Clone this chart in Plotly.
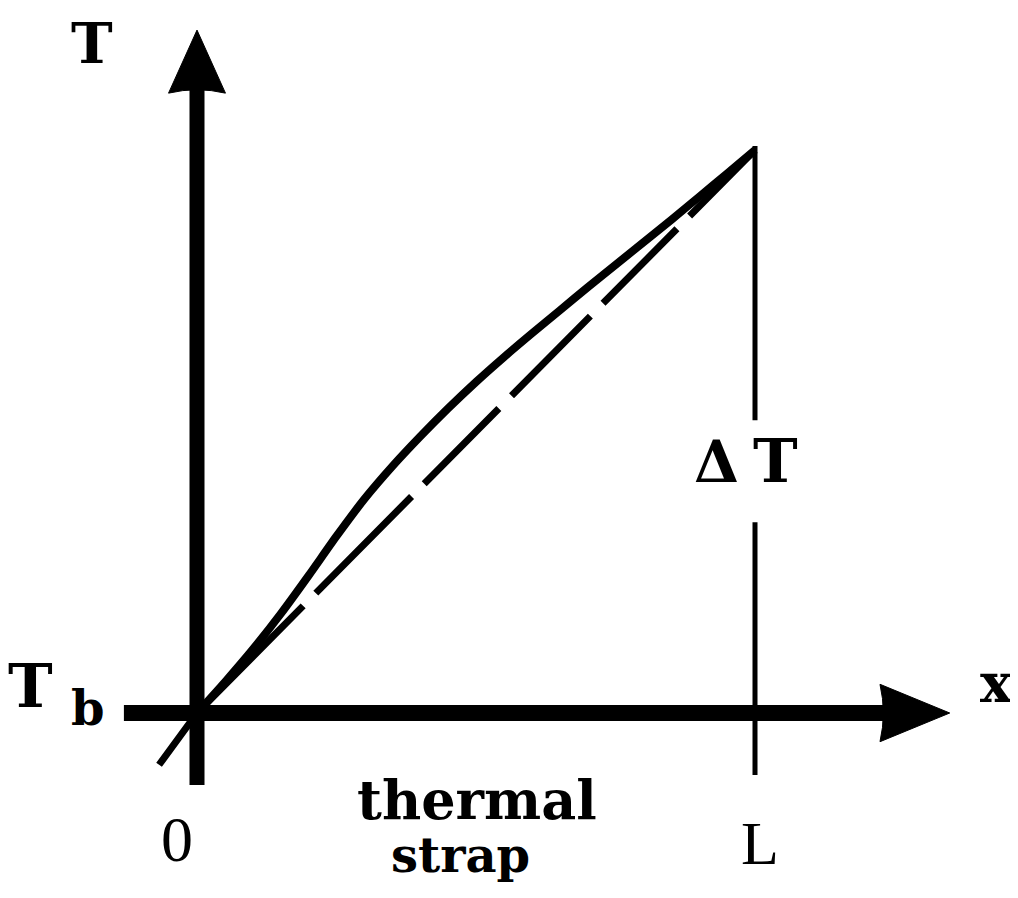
import plotly.graph_objects as go

# ---- data (normalised: x in units of L, T in units of dT above Tb) ----
x_curve = [0, 0.05, 0.1, 0.15, 0.2, 0.25, 0.3, 0.35, 0.4, 0.45, 0.5,
           0.55, 0.6, 0.65, 0.7, 0.75, 0.8, 0.85, 0.9, 0.95, 1.0]
T_curve = [0, 0.055, 0.113, 0.176, 0.244, 0.314, 0.380, 0.438, 0.491, 0.541, 0.588,
           0.632, 0.674, 0.715, 0.756, 0.796, 0.836, 0.876, 0.917, 0.958, 1.0]

x_linear = [-0.068, 0, 1.0]
T_linear = [-0.092, 0, 1.0]

x_L = 1.0
dT_upper = [1.007, 0.52]
dT_lower = [0.339, -0.110]

# axis extents (data units)
x_axis_start, x_axis_end, x_arrow_tip = -0.131, 1.224, 1.349
y_axis_start, y_axis_end, y_arrow_tip = -0.128, 1.101, 1.213
arrow_half_x = 0.051  # half width of vertical arrow (x units)
arrow_half_y = 0.051  # half height of horizontal arrow (y units)

OFF = 8  # page offset of the plot div
W, H = 1018 - OFF, 898 - OFF
X0_PX, Y0_PX = 197 - OFF, 713 - OFF   # origin in figure pixels
SX, SY = 558.0, 563.0                  # pixels per data unit
X_RANGE = [-X0_PX / SX, (W - X0_PX) / SX]
Y_RANGE = [(Y0_PX - H) / SY, Y0_PX / SY]

fig = go.Figure()

# solid curve
fig.add_trace(go.Scatter(x=x_curve, y=T_curve, mode="lines",
                         line=dict(color="black", width=8, shape="spline", smoothing=0.6),
                         hoverinfo="skip", showlegend=False))
# dashed linear profile
fig.add_trace(go.Scatter(x=x_linear, y=T_linear, mode="lines",
                         line=dict(color="black", width=7,
                                   dash="215px,18px,136px,18px,106px,18px,112px,18px,105px,18px,400px,1px"),
                         hoverinfo="skip", showlegend=False))
# vertical line at x = L (broken around the Delta T label)
for seg in (dT_upper, dT_lower):
    fig.add_trace(go.Scatter(x=[x_L, x_L], y=seg, mode="lines",
                             line=dict(color="black", width=5),
                             hoverinfo="skip", showlegend=False))

shapes = [
    dict(type="line", x0=x_axis_start, x1=x_axis_end + 0.01, y0=0, y1=0,
         line=dict(color="black", width=16), layer="above"),
    dict(type="line", x0=0, x1=0, y0=y_axis_start, y1=y_axis_end + 0.01,
         line=dict(color="black", width=15), layer="above"),
    dict(type="path",
         path=f"M {x_axis_end},{arrow_half_y} L {x_arrow_tip},0 L {x_axis_end},{-arrow_half_y} "
              f"Q {x_axis_end + 0.012},0 {x_axis_end},{arrow_half_y} Z",
         fillcolor="black", line=dict(color="black", width=1), layer="above"),
    dict(type="path",
         path=f"M {-arrow_half_x},{y_axis_end} L 0,{y_arrow_tip} L {arrow_half_x},{y_axis_end} "
              f"Q 0,{y_axis_end + 0.012} {-arrow_half_x},{y_axis_end} Z",
         fillcolor="black", line=dict(color="black", width=1), layer="above"),
]

SERIF = "DejaVu Serif"


def ann(text, px, py, size, bold=True, family=SERIF, yanchor="middle"):
    return dict(text=f"<b>{text}</b>" if bold else text,
                x=(px - OFF) / W, y=1 - (py - OFF) / H, xref="paper", yref="paper",
                xanchor="center", yanchor=yanchor, showarrow=False,
                font=dict(family=family, size=size, color="black"))


annotations = [
    ann("T", 92, OFF, 56, yanchor="top"),
    ann("T", 30, 686, 60),
    ann("b", 88, 708, 48),
    ann("x", 996, 683, 54),
    ann("Δ", 716, 462, 58),
    ann("T", 775, 461, 60),
    ann("0", 177, 839, 64, bold=False, family="Liberation Serif"),
    ann("L", 760, 843, 62, bold=False, family="Liberation Serif"),
    ann("thermal", 477, 800, 54),
    ann("strap", 460, 855, 48),
]

fig.update_layout(
    width=W, height=H,
    margin=dict(l=0, r=0, t=0, b=0),
    paper_bgcolor="white", plot_bgcolor="white",
    xaxis=dict(range=X_RANGE, visible=False, fixedrange=True),
    yaxis=dict(range=Y_RANGE, visible=False, fixedrange=True),
    shapes=shapes, annotations=annotations,
)

fig.write_html("out.html")
